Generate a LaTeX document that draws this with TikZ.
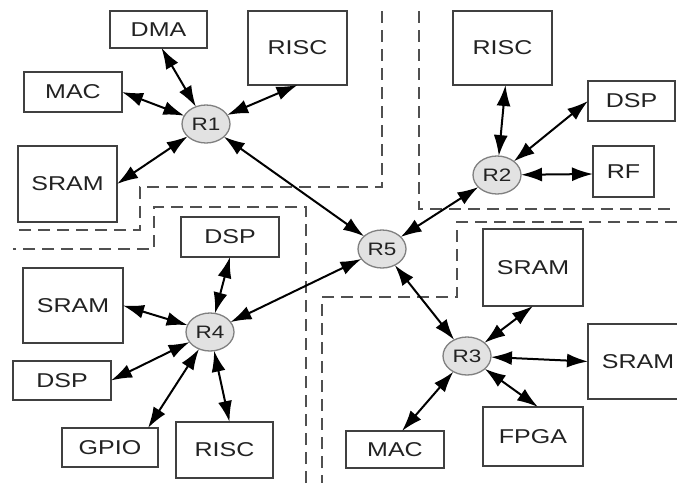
\documentclass[tikz,border=0pt]{standalone}
\usepackage{fontspec}
\setmainfont{Liberation Sans}
\usetikzlibrary{arrows.meta,shapes.geometric}
\newcommand{\widetxt}[1]{\scalebox{1.25}[1]{#1}}
\definecolor{boxline}{HTML}{404040}
\definecolor{txt}{HTML}{222222}
\definecolor{rline}{HTML}{808080}
\definecolor{rfill}{HTML}{E2E2E2}
\definecolor{zoneline}{HTML}{505050}
\tikzset{
  box/.style={draw=boxline, line width=1.6pt, inner sep=0pt, outer sep=0pt,
    text=txt, font=\fontsize{20}{24}\selectfont},
  router/.style={ellipse, draw=rline, fill=rfill, line width=1.3pt,
    minimum width=48pt, minimum height=38pt, inner sep=0pt, outer sep=0pt,
    text=txt, font=\fontsize{18}{22}\selectfont},
  link/.style={>={Latex[length=21pt,width=14pt]}, <->,
    line width=2pt, draw=black},
  zone/.style={draw=zoneline, line width=1.7pt, dash pattern=on 12pt off 7pt}
}
\begin{document}
\begin{tikzpicture}[x=1pt,y=-1pt]

\fill[white] (0,0) rectangle (677,483);
\useasboundingbox (0,0) rectangle (677,483);

% region boundaries
\draw[zone] (382,11) -- (382,187) -- (140,187) -- (140,230) -- (15,230);
\draw[zone] (306,483) -- (306,207) -- (154,207) -- (154,249) -- (13,249);
\draw[zone] (419,11) -- (419,209) -- (677,209);
\draw[zone] (677,222) -- (457,222) -- (457,297) -- (322,297) -- (322,483);

% routers
\node[router] (R1) at (206,124) {\widetxt{R1}};
\node[router] (R2) at (497,175) {\widetxt{R2}};
\node[router] (R5) at (382,249) {\widetxt{R5}};
\node[router] (R4) at (210,332) {\widetxt{R4}};
\node[router] (R3) at (467,356) {\widetxt{R3}};

% cluster around R1
\node[box, minimum width=97pt, minimum height=37pt] (DMA) at (158.5,29.5) {\widetxt{DMA}};
\node[box, minimum width=99pt, minimum height=74pt] (RISCa) at (297.5,48) {\widetxt{RISC}};
\node[box, minimum width=98pt, minimum height=40pt] (MACa) at (73,92) {\widetxt{MAC}};
\node[box, minimum width=99pt, minimum height=76pt] (SRAMa) at (67.5,184) {\widetxt{SRAM}};

% cluster around R2
\node[box, minimum width=99pt, minimum height=74pt] (RISCb) at (502.5,48) {\widetxt{RISC}};
\node[box, minimum width=87pt, minimum height=40pt] (DSPa) at (631.5,101) {\widetxt{DSP}};
\node[box, minimum width=61pt, minimum height=51pt] (RF) at (623.5,171.5) {\widetxt{RF}};

% cluster around R4
\node[box, minimum width=98pt, minimum height=40pt] (DSPb) at (230,237) {\widetxt{DSP}};
\node[box, minimum width=100pt, minimum height=75pt] (SRAMb) at (73,305.5) {\widetxt{SRAM}};
\node[box, minimum width=98pt, minimum height=39pt] (DSPc) at (62,380.5) {\widetxt{DSP}};
\node[box, minimum width=96pt, minimum height=39pt] (GPIO) at (110,447.5) {\widetxt{GPIO}};
\node[box, minimum width=97pt, minimum height=56pt] (RISCc) at (224.5,450) {\widetxt{RISC}};

% cluster around R3
\node[box, minimum width=100pt, minimum height=77pt] (SRAMc) at (533,267.5) {\widetxt{SRAM}};
\node[box, minimum width=100pt, minimum height=75pt] (SRAMd) at (638,361.5) {\widetxt{SRAM}};
\node[box, minimum width=100pt, minimum height=59pt] (FPGA) at (533,436.5) {\widetxt{FPGA}};
\node[box, minimum width=98pt, minimum height=37pt] (MACb) at (395,449.5) {\widetxt{MAC}};

% links
\draw[link] ([xshift=3pt]DMA.south) -- (R1);
\draw[link] (RISCa.south) -- (R1);
\draw[link] (MACa.east) -- (R1);
\draw[link] (SRAMa.east) -- (R1);
\draw[link] (R1) -- (R5);

\draw[link] ([xshift=3pt]RISCb.south) -- (R2);
\draw[link] (DSPa.west) -- (R2);
\draw[link] ([yshift=-2.5pt]RF.west) -- (R2);
\draw[link] (R2) -- (R5);

\draw[link] (DSPb.south) -- (R4);
\draw[link] (SRAMb.east) -- (R4);
\draw[link] (DSPc.east) -- (R4);
\draw[link] ([xshift=-10pt]GPIO.north east) -- (R4);
\draw[link] ([xshift=5pt]RISCc.north) -- (R4);
\draw[link] (R5) -- (R4);

\draw[link] (R5) -- (R3);
\draw[link] (SRAMc.south) -- (R3);
\draw[link] (SRAMd.west) -- (R3);
\draw[link] ([xshift=5pt]FPGA.north) -- (R3);
\draw[link] ([xshift=7pt]MACb.north) -- (R3);
\end{tikzpicture}
\end{document}
